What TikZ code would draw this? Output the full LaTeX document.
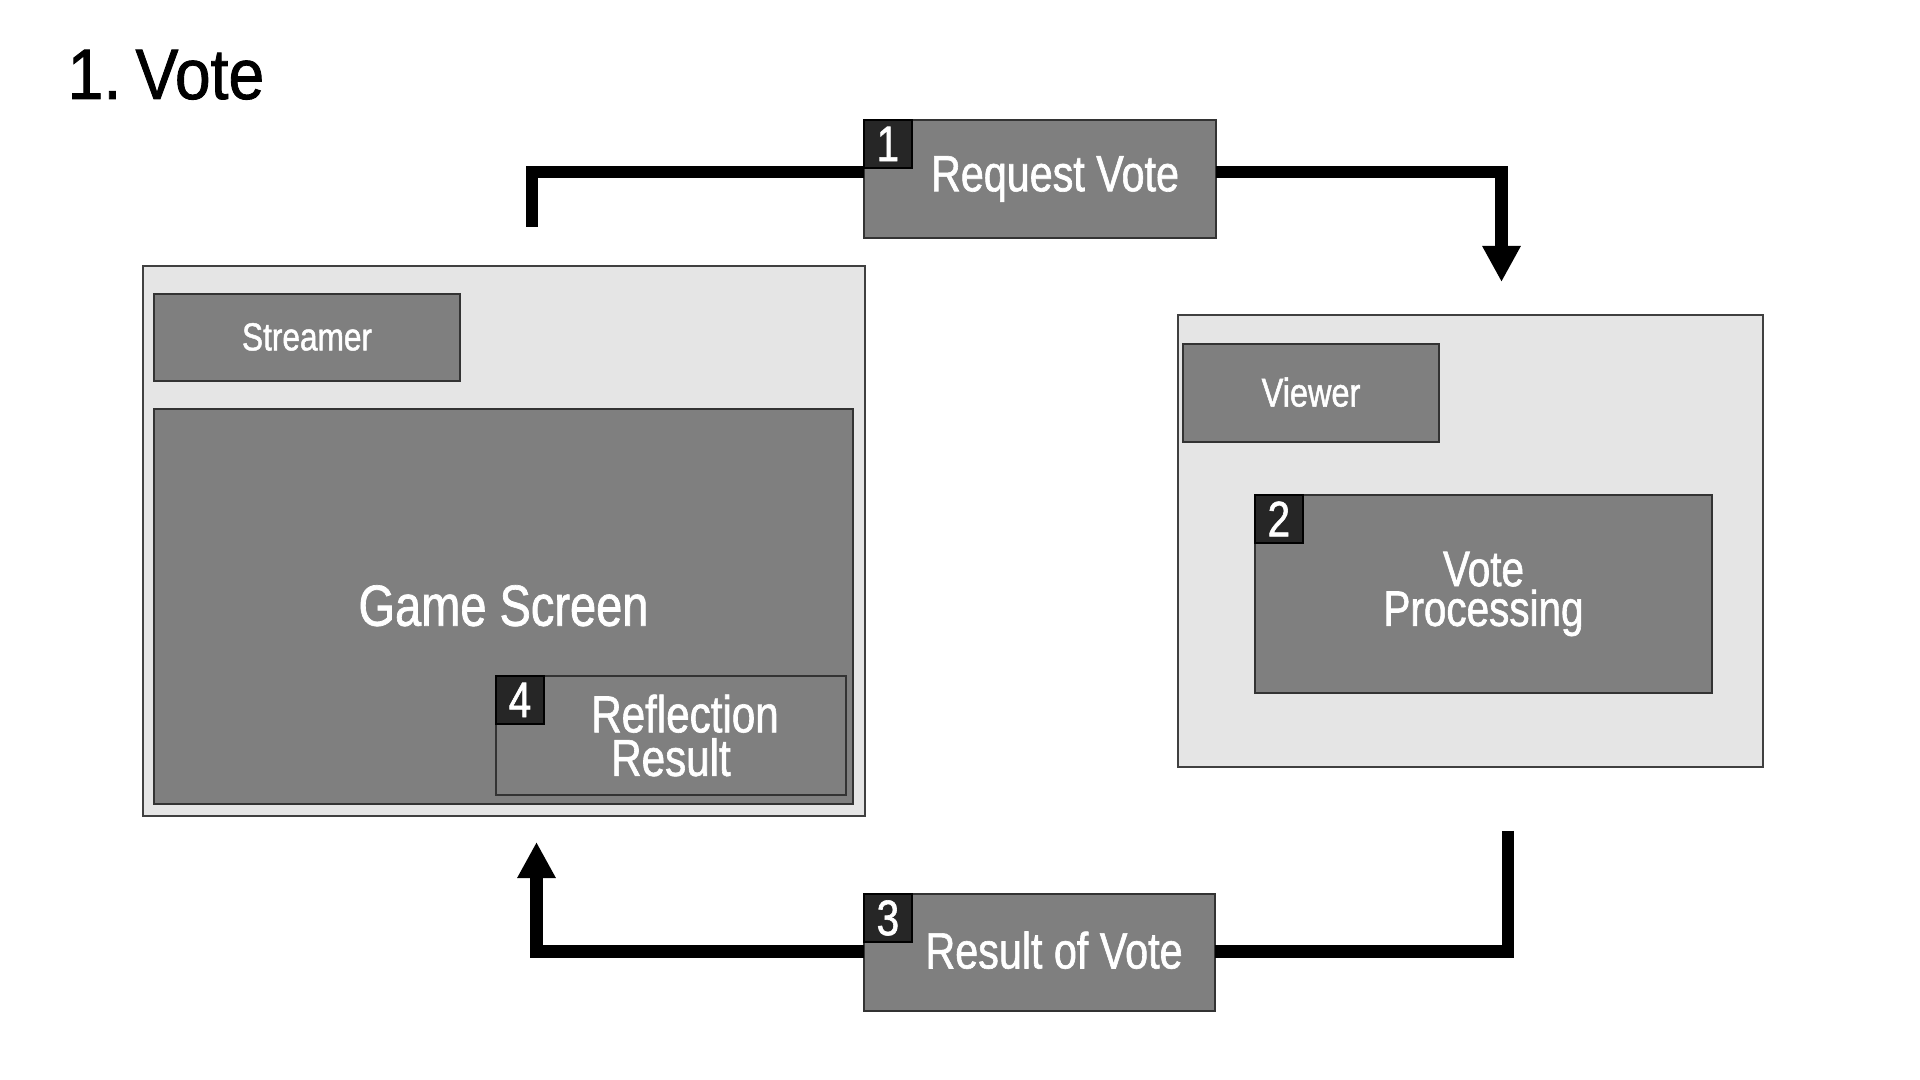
\documentclass[tikz,border=0pt]{standalone}
\usepackage{fontspec}
\setmainfont{Liberation Sans}[FakeStretch=0.81, FakeBold=1.2]
\newfontfamily\titlefont{Liberation Sans}[FakeStretch=0.9, FakeBold=1.2]
\usetikzlibrary{arrows.meta}
\definecolor{boxgray}{HTML}{7F7F7F}
\definecolor{contgray}{HTML}{E5E5E5}
\definecolor{edgegray}{HTML}{404040}
\definecolor{darkedge}{HTML}{333333}
\definecolor{badgecol}{HTML}{262626}
\newcommand\fsz[2]{\fontsize{#1}{#2}\selectfont}
\begin{document}
\begin{tikzpicture}[x=0.01cm,y=-0.01cm,
  container/.style={draw=edgegray, fill=contgray, line width=0.025cm, inner sep=0pt, outer sep=0pt},
  graybox/.style={draw=darkedge, fill=boxgray, line width=0.02cm, inner sep=0pt, outer sep=0pt, text=white},
  badge/.style={draw=black, fill=badgecol, line width=0.022cm, minimum width=0.48cm, minimum height=0.48cm, inner sep=0pt, outer sep=0pt, text=white, font=\fsz{14.2pt}{14.2pt}, anchor=north west},
  conn/.style={line width=0.125cm, line join=miter, line cap=butt, draw=black},
  tip/.style={-{Triangle[width=0.36cm,length=0.36cm]}}
]
\useasboundingbox (0,0) rectangle (1920,1080);
\fill[white] (0,0) rectangle (1920,1080);

% title
\node[anchor=base west, inner sep=0pt, font=\titlefont\fsz{20.3pt}{22pt}] (title) at (67,99) {1.\hspace{0.2em}Vote};

% left container
\node[container, minimum width=7.22cm, minimum height=5.50cm] (lc) at (504,541) {};
\node[graybox, minimum width=3.06cm, minimum height=0.87cm, font=\fsz{11.1pt}{12pt}] (str) at (307,337.5) {\raisebox{0.015cm}{Streamer}};
\node[graybox, minimum width=6.99cm, minimum height=3.95cm, font=\fsz{16.5pt}{18pt}] (gs) at (503.5,606.5) {\raisebox{0.02cm}{Game Screen}};
\node[graybox, minimum width=3.50cm, minimum height=1.19cm, align=center, font=\fsz{14.8pt}{12.4pt}] (ref) at (671,735.5) {\hspace*{0.28cm}Reflection\\Result};
\node[badge] (b4) at (ref.north west) {4};

% right container
\node[container, minimum width=5.85cm, minimum height=4.52cm] (rc) at (1470.5,541) {};
\node[graybox, minimum width=2.56cm, minimum height=0.98cm, font=\fsz{11.4pt}{12pt}] (vw) at (1311,393) {\raisebox{0.02cm}{Viewer}};
\node[graybox, minimum width=4.57cm, minimum height=1.98cm, align=center, font=\fsz{14.2pt}{11.3pt}] (vp) at (1483.5,594) {Vote\\Processing};
\node[badge] (b2) at (vp.north west) {2};

% step boxes
\node[graybox, minimum width=3.52cm, minimum height=1.18cm, font=\fsz{14.5pt}{16pt}] (req) at (1040,179) {\hspace*{0.3cm}Request Vote};
\node[badge] (b1) at (req.north west) {1};
\node[graybox, minimum width=3.51cm, minimum height=1.17cm, font=\fsz{14.5pt}{16pt}] (res) at (1039.5,952.5) {\hspace*{0.29cm}\raisebox{0.05cm}{Result of Vote}};
\node[badge] (b3) at (res.north west) {3};

% connectors
\coordinate (tlend) at (532,227.5);
\coordinate (trtip) at (1501.5,282);
\coordinate (brstart) at (1508,831);
\coordinate (bltip) at (536.5,842);
\draw[conn] ([yshift=0.07cm]req.west) -| (tlend);
\draw[conn,tip] ([yshift=0.07cm]req.east) -| (trtip);
\draw[conn] (brstart) |- ([yshift=0.01cm]res.east);
\draw[conn,tip] ([yshift=0.01cm]res.west) -| (bltip);
\end{tikzpicture}
\end{document}
